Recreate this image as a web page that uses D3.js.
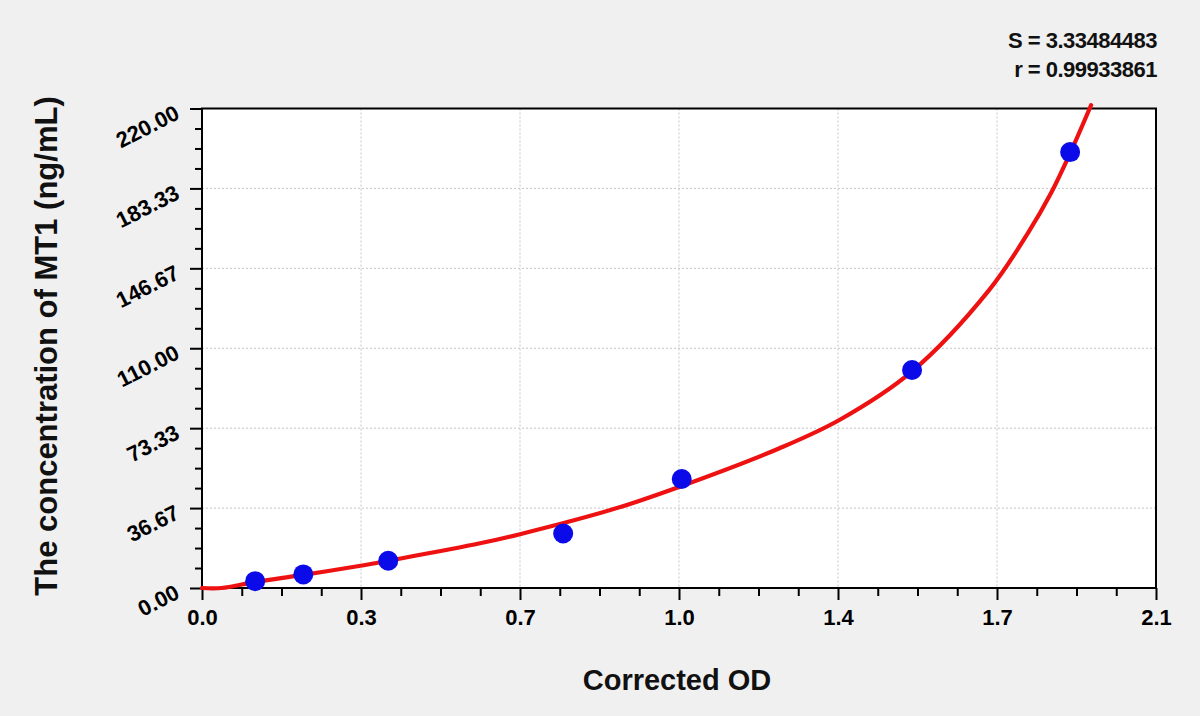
<!DOCTYPE html>
<html>
<head>
<meta charset="utf-8">
<script src="https://cdn.jsdelivr.net/npm/d3@7"></script>
<style>
  html, body { margin: 0; padding: 0; background: #f0f0f0; }
  svg { display: block; font-family: "Liberation Sans", Arial, sans-serif; }
</style>
</head>
<body>
<div id="chart"></div>
<script>
// standards: corrected OD vs concentration
const odValues = [0.117, 0.223, 0.410, 0.795, 1.056, 1.563, 1.911];
const concValues = [3.125, 6.25, 12.5, 25, 50, 100, 200];

// fitted curve
const curveOD = [0, 0.043, 0.117, 0.223, 0.349, 0.41, 0.612, 0.702, 0.906, 1.053, 1.27, 1.404, 1.563, 1.733, 1.818, 1.869, 1.911, 1.957];
const curveConc = [0, 0, 2.8, 6.0, 10.2, 12.5, 20.5, 24.8, 36.2, 46.6, 64, 77.2, 99.4, 136.8, 162.8, 181.2, 199.5, 221.5];

const xTickValues = [0, 0.35, 0.7, 1.05, 1.4, 1.75, 2.1];
const xTickLabels = ["0.0", "0.3", "0.7", "1.0", "1.4", "1.7", "2.1"];
const yTickValues = [0, 36.667, 73.333, 110, 146.667, 183.333, 220];
const yTickLabels = ["0.00", "36.67", "73.33", "110.00", "146.67", "183.33", "220.00"];

const statS = "S = 3.33484483";
const statR = "r = 0.99933861";

const width = 1200, height = 716;
const margin = { top: 108.5, right: 44, bottom: 128, left: 202 };
const w = width - margin.left - margin.right;
const h = height - margin.top - margin.bottom;

const svg = d3.select("#chart").append("svg")
  .attr("width", width)
  .attr("height", height);

svg.append("rect").attr("width", width).attr("height", height).attr("fill", "#f0f0f0");

const g = svg.append("g").attr("transform", `translate(${margin.left},${margin.top})`);

const x = d3.scaleLinear().domain([0, 2.1]).range([0, w]);
const y = d3.scaleLinear().domain([0, 220]).range([h, 0]);

g.append("rect").attr("width", w).attr("height", h).attr("fill", "#ffffff");

// grid
g.append("g").selectAll("line").data(xTickValues.slice(1, -1)).enter().append("line")
  .attr("x1", d => x(d)).attr("x2", d => x(d)).attr("y1", 0).attr("y2", h)
  .attr("stroke", "#c4c4c4").attr("stroke-width", 1).attr("stroke-dasharray", "2,2");
g.append("g").selectAll("line").data(yTickValues.slice(1, -1)).enter().append("line")
  .attr("y1", d => y(d)).attr("y2", d => y(d)).attr("x1", 0).attr("x2", w)
  .attr("stroke", "#c4c4c4").attr("stroke-width", 1).attr("stroke-dasharray", "2,2");

// minor ticks
const xMinor = d3.range(0, 24 + 1).map(i => i * 0.0875).filter((d, i) => i % 4 !== 0);
const yMinor = d3.range(0, 24 + 1).map(i => i * 220 / 24).filter((d, i) => i % 4 !== 0);

g.append("g").attr("transform", `translate(0,${h})`)
  .call(d3.axisBottom(x).tickValues(xMinor).tickSize(8).tickFormat(""))
  .call(a => a.select(".domain").remove())
  .selectAll("line").attr("stroke", "#000").attr("stroke-width", 2);
g.append("g")
  .call(d3.axisLeft(y).tickValues(yMinor).tickSize(7).tickFormat(""))
  .call(a => a.select(".domain").remove())
  .selectAll("line").attr("stroke", "#000").attr("stroke-width", 2);

// major ticks + labels
const xAxis = g.append("g").attr("transform", `translate(0,${h})`)
  .call(d3.axisBottom(x).tickValues(xTickValues).tickSize(12).tickPadding(10)
    .tickFormat((d, i) => xTickLabels[i]));
xAxis.select(".domain").remove();
xAxis.selectAll("line").attr("stroke", "#000").attr("stroke-width", 2);
xAxis.selectAll("text")
  .attr("fill", "#000").attr("font-size", "22px").attr("font-weight", "bold")
  .attr("font-family", "Liberation Sans, Arial, sans-serif")
  .attr("y", 37).attr("dy", 0);

const yAxis = g.append("g")
  .call(d3.axisLeft(y).tickValues(yTickValues).tickSize(12)
    .tickFormat((d, i) => yTickLabels[i]));
yAxis.select(".domain").remove();
yAxis.selectAll("line").attr("stroke", "#000").attr("stroke-width", 2);
yAxis.selectAll("text")
  .attr("fill", "#000").attr("font-size", "22px").attr("font-weight", "bold")
  .attr("font-family", "Liberation Sans, Arial, sans-serif")
  .attr("text-anchor", "end")
  .attr("x", null).attr("dy", null)
  .attr("transform", "translate(-21,9) rotate(-27)");

// frame
g.append("rect").attr("width", w).attr("height", h)
  .attr("fill", "none").attr("stroke", "#000").attr("stroke-width", 2);

// fitted curve
const curvePts = curveOD.map((d, i) => [d, curveConc[i]]);
g.append("path")
  .datum(curvePts)
  .attr("fill", "none")
  .attr("stroke", "#ee1111")
  .attr("stroke-width", 4.2)
  .attr("stroke-linecap", "round")
  .attr("d", d3.line().x(d => x(d[0])).y(d => y(d[1])).curve(d3.curveCatmullRom.alpha(0.5)));

// standards
g.append("g").selectAll("circle")
  .data(odValues.map((d, i) => [d, concValues[i]]))
  .enter().append("circle")
  .attr("cx", d => x(d[0]))
  .attr("cy", d => y(d[1]))
  .attr("r", 10)
  .attr("fill", "#0b0bea");

// titles
svg.append("text")
  .attr("x", margin.left + w / 2 - 2).attr("y", 690)
  .attr("text-anchor", "middle")
  .attr("font-size", "29px").attr("font-weight", "bold")
  .attr("fill", "#111")
  .text("Corrected OD");

svg.append("text")
  .attr("transform", "translate(57,346) rotate(-90)")
  .attr("text-anchor", "middle")
  .attr("font-size", "31px").attr("font-weight", "bold")
  .attr("fill", "#111")
  .text("The concentration of MT1 (ng/mL)");

// fit stats
[statS, statR].forEach((t, i) => {
  svg.append("text")
    .attr("x", 1157).attr("y", 48 + i * 29)
    .attr("text-anchor", "end")
    .attr("font-size", "22px").attr("font-weight", "bold")
    .attr("letter-spacing", "-0.5px")
    .attr("fill", "#111")
    .text(t);
});
</script>
</body>
</html>
